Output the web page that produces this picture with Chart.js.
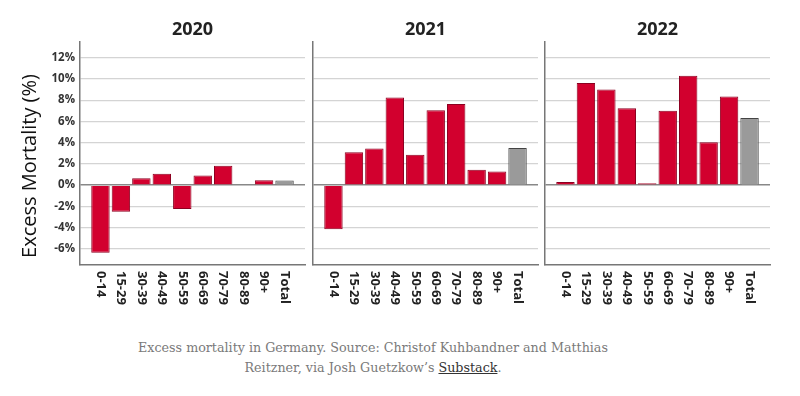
<!DOCTYPE html>
<html>
<head>
<meta charset="utf-8">
<script src="https://cdn.jsdelivr.net/npm/chart.js@4.4.1/dist/chart.umd.min.js"></script>
<style>
  body { margin: 0; background: #fff; width: 800px; height: 396px; overflow: hidden; position: relative; }
  canvas { position: absolute; top: 0; }
  #caption {
    position: absolute; left: 0; top: 338px; width: 746px; text-align: center;
    font-family: "DejaVu Serif", serif; font-size: 12.7px; line-height: 20px; color: #7a7a7a;
  }
  #caption u { color: #333; }
</style>
</head>
<body>
<canvas id="c2020"></canvas>
<canvas id="c2021"></canvas>
<canvas id="c2022"></canvas>
<div id="caption">Excess mortality in Germany. Source: Christof Kuhbandner and Matthias<br>Reitzner, via Josh Guetzkow’s <u>Substack</u>.</div>
<script>
// categorie
const ageGroups = ['0-14', '15-29', '30-39', '40-49', '50-59', '60-69', '70-79', '80-89', '90+', 'Total'];
const years = ['2020', '2021', '2022'];

// valori (%)
const values2020 = [-6.35, -2.5, 0.66, 1.07, -2.23, 0.91, 1.82, 0, 0.47, 0.44];
const values2021 = [-4.15, 3.11, 3.46, 8.24, 2.86, 7.04, 7.64, 1.45, 1.29, 3.49];
const values2022 = [0.31, 9.62, 8.99, 7.23, 0.19, 7.01, 10.28, 4.03, 8.33, 6.32];

const yTicks = [-6, -4, -2, 0, 2, 4, 6, 8, 10, 12];
const yTitle = 'Excess Mortality (%)';

const red = '#d2002e', redBorder = '#8c0020';
const grey = '#9a9a9a', greyBorder = '#444';

// posizione dei canvas
const boxes = [
  {id: 'c2020', left: 0, width: 310, padL: 0, padR: 5, yWidth: 80},
  {id: 'c2021', left: 310, width: 232, padL: 3, padR: 4, yWidth: 0},
  {id: 'c2022', left: 542, width: 258, padL: 3, padR: 30, yWidth: 0}
];
const H = 330;

// etichette ruotate in senso orario + titolo asse y
const rotatedLabels = {
  id: 'rotatedLabels',
  afterDraw(chart, args, opts) {
    const ctx = chart.ctx;
    const xs = chart.scales.x;
    ctx.save();
    ctx.font = 'bold 13px "Open Sans"';
    ctx.fillStyle = '#222';
    ctx.textAlign = 'left';
    ctx.textBaseline = 'middle';
    ageGroups.forEach((lab, i) => {
      const x = xs.getPixelForValue(i + 1);
      ctx.save();
      ctx.translate(x, chart.chartArea.bottom + 6);
      ctx.rotate(Math.PI / 2);
      ctx.fillText(lab, 0, 0);
      ctx.restore();
    });
    if (opts.yTitle) {
      ctx.save();
      ctx.font = '20px "Open Sans"';
      ctx.fillStyle = '#111';
      ctx.textAlign = 'center';
      ctx.translate(30, 166);
      ctx.rotate(-Math.PI / 2);
      ctx.fillText(yTitle, 0, 0);
      ctx.restore();
    }
    ctx.restore();
  }
};

function makeChart(box, year, vals, first) {
  const cv = document.getElementById(box.id);
  cv.style.left = box.left + 'px';
  cv.width = box.width;
  cv.height = H;
  cv.style.width = box.width + 'px';
  cv.style.height = H + 'px';

  const labels = [''].concat(ageGroups, ['']);
  const data = [null].concat(vals, [null]);
  const colors = [null].concat(ageGroups.map(a => a === 'Total' ? grey : red), [null]);
  const borders = [null].concat(ageGroups.map(a => a === 'Total' ? greyBorder : redBorder), [null]);

  return new Chart(cv, {
    type: 'bar',
    data: {
      labels: labels,
      datasets: [{
        data: data,
        backgroundColor: colors,
        borderColor: borders,
        borderWidth: 1,
        barPercentage: 0.9,
        categoryPercentage: 1.0
      }]
    },
    options: {
      responsive: false,
      animation: false,
      layout: { padding: { left: box.padL, right: box.padR, top: 0, bottom: 0 } },
      plugins: {
        legend: { display: false },
        tooltip: { enabled: false },
        rotatedLabels: { yTitle: first },
        title: {
          display: true,
          text: year,
          fullSize: false,
          font: { family: 'Open Sans', size: 18, weight: 'bold' },
          color: '#222',
          padding: { top: 19, bottom: 1 }
        }
      },
      scales: {
        x: {
          offset: false,
          grid: { display: false },
          border: { display: true, color: '#777', width: 1.5 },
          ticks: { display: false },
          afterFit: s => { s.height = H - 265; }
        },
        y: {
          min: -7.5,
          max: 13.5,
          afterBuildTicks: s => { s.ticks = yTicks.map(v => ({value: v})); },
          grid: {
            drawTicks: false,
            color: c => c.tick && c.tick.value === 0 ? '#888' : '#d4d4d4',
            lineWidth: c => c.tick && c.tick.value === 0 ? 1.5 : 1.2
          },
          border: { display: true, color: '#777', width: 1.5 },
          ticks: {
            display: first,
            padding: 5,
            color: '#333',
            font: { family: 'Open Sans', size: 11.5, weight: 'bold' },
            callback: v => v + '%'
          },
          afterFit: s => { s.width = box.yWidth; }
        }
      }
    },
    plugins: [rotatedLabels]
  });
}

makeChart(boxes[0], years[0], values2020, true);
makeChart(boxes[1], years[1], values2021, false);
makeChart(boxes[2], years[2], values2022, false);
</script>
</body>
</html>
